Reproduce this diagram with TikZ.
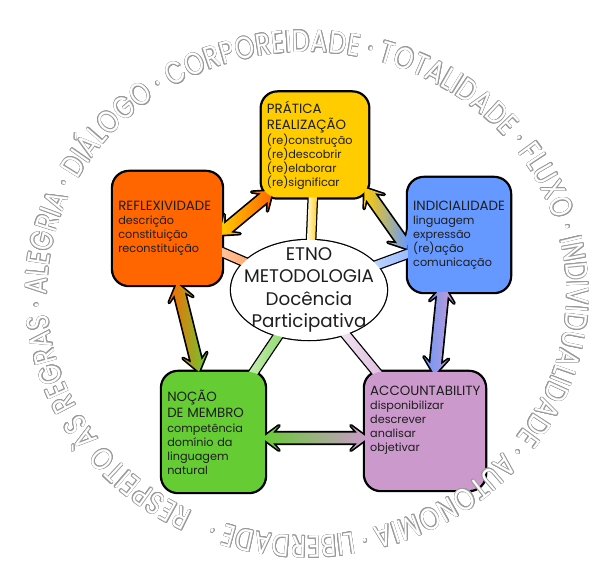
\documentclass[tikz,border=0pt]{standalone}
\usepackage{fontspec}
\setmainfont{Poppins}
\newfontfamily\ringfont{Poppins}[FakeStretch=0.8]
\usepackage{contour}
\contourlength{0.42pt}
\usetikzlibrary{calc, shapes.geometric, decorations.text}

\definecolor{sun}{HTML}{FFCC00}
\definecolor{flame}{HTML}{FF6600}
\definecolor{sky}{HTML}{6699FF}
\definecolor{leaf}{HTML}{66CC33}
\definecolor{lilac}{HTML}{CC99CC}
\definecolor{ash}{HTML}{9A9A9A}
\definecolor{ink}{HTML}{1E1E1E}

\pgfdeclarelayer{outline}
\pgfdeclarelayer{paint}
\pgfsetlayers{outline,paint,main}

\newcommand\headfont{\fontsize{9.5}{12}\selectfont}
\newcommand\itemfont{\fontsize{8}{10}\selectfont}
\newcommand\boxhead[1]{{\headfont #1\par}}
\newcommand\ringchar[1]{\contour{ash}{#1}}

% length and direction from (barA) to (barB)
\newcommand\measurebar{%
  \pgfpointdiff{\pgfpointanchor{barA}{center}}{\pgfpointanchor{barB}{center}}%
  \pgfgetlastxy{\barx}{\bary}%
  \pgfmathsetmacro\barlen{veclen(\barx,\bary)}%
  \pgfmathsetmacro\barang{atan2(\bary,\barx)}}

% shaded band between two nodes, outline below, fill above
\newcommand\spoke[4]{%
  \path (#1) coordinate (barA) (#2) coordinate (barB);
  \measurebar
  \begin{scope}[shift={(barA)}, rotate=\barang]
    \begin{pgfonlayer}{outline}
      \draw[line width=1.8pt] (0,-2.9pt) rectangle (\barlen pt,2.9pt);
    \end{pgfonlayer}
    \begin{pgfonlayer}{paint}
      \shade[left color=#3, right color=#4] (0,-2.9pt) rectangle (\barlen pt,2.9pt);
    \end{pgfonlayer}
  \end{scope}}

% two-headed block arrow, tip to tip
\newcommand\blockarrow[4]{%
  \path (#1) coordinate (barA) (#2) coordinate (barB);
  \measurebar
  \pgfmathsetmacro\barneck{\barlen-7.5}%
  \pgfmathsetmacro\barbarb{\barlen-12}%
  \def\barpath{(0,0) -- (12pt,8.8pt) -- (7.5pt,3.8pt) -- (\barneck pt,3.8pt) -- (\barbarb pt,8.8pt) -- (\barlen pt,0) -- (\barbarb pt,-8.8pt) -- (\barneck pt,-3.8pt) -- (7.5pt,-3.8pt) -- (12pt,-8.8pt) -- cycle}%
  \begin{scope}[shift={(barA)}, rotate=\barang]
    \begin{pgfonlayer}{outline}
      \draw[line width=2.4pt, line join=round] \barpath;
    \end{pgfonlayer}
    \begin{pgfonlayer}{paint}
      \shade[left color=#3, right color=#4] \barpath;
    \end{pgfonlayer}
  \end{scope}}

\begin{document}
\begin{tikzpicture}[x=0.25mm, y=0.25mm,
    box/.style={rounded corners=4mm, inner xsep=1.3mm, inner ysep=0pt, align=left, font=\itemfont, text=ink},
    core/.style={ellipse, fill=white, minimum width=39mm, minimum height=25mm, inner sep=0pt},
    coretext/.style={align=center, font=\fontsize{13}{16}\selectfont, text=ink},
    rim/.style={line width=2.8pt, rounded corners=4mm}
  ]
  \useasboundingbox (0,0) rectangle (616,567);

  \node[core] (etno) at (309,277) {};
  \node[coretext] (etno-t) at (etno) {ETNO\\METODOLOGIA\\Docência\\Participativa};

  \node[box, fill=sun, text width=24mm, minimum height=26.25mm] (pra) at (315,422)
    {\boxhead{PRÁTICA\\REALIZAÇÃO}(re)construção\\(re)descobrir\\(re)elaborar\\(re)significar};
  \node[box, fill=flame, text width=24.6mm, minimum height=28.25mm] (ref) at (167.5,338.5)
    {\boxhead{REFLEXIVIDADE}descrição\\constituição\\reconstituição};
  \node[box, fill=sky, text width=22.9mm, minimum height=28.5mm] (ind) at (459,332)
    {\boxhead{INDICIALIDADE}linguagem\\expressão\\(re)ação\\comunicação};
  \node[box, fill=leaf, text width=23.1mm, minimum height=30mm] (noc) at (213.5,135)
    {\boxhead{NOÇÃO\\DE MEMBRO}competência\\domínio da\\linguagem\\natural};
  \node[box, fill=lilac, text width=27.4mm, text depth=57pt, minimum height=29.5mm] (acc) at (425,136)
    {\boxhead{ACCOUNTABILITY}disponibilizar\\descrever\\analisar\\objetivar};

  % borders go under every fill so arrows merge into the boxes
  \begin{pgfonlayer}{outline}
    \foreach \b in {pra,ref,ind,noc,acc}
      \draw[rim] (\b.south west) rectangle (\b.north east);
    \draw[line width=1.8pt] (etno) ellipse [x radius=19.5mm, y radius=12.5mm];
  \end{pgfonlayer}

  \spoke{etno}{pra}{white}{sun}
  \spoke{etno}{ref}{white}{flame}
  \spoke{etno}{ind}{white}{sky}
  \spoke{etno}{noc}{white}{leaf}
  \spoke{etno}{acc}{white}{lilac}

  \blockarrow{$(pra.south west)+(11,7)$}{$(ref.east)+(-3,-6.5)$}{sun}{flame}
  \blockarrow{$(pra.south east)+(-4,10)$}{$(ind.west)+(0,-14)$}{sun}{sky}
  \blockarrow{$(ref.south)+(9.5,2)$}{$(noc.north)+(-14.5,0)$}{flame}{leaf}
  \blockarrow{$(ind.south)+(-15.5,7)$}{$(acc.north)+(9.5,-3)$}{sky}{lilac}
  \blockarrow{$(noc.east)+(-3,-6)$}{$(acc.west)+(3,-7)$}{leaf}{lilac}

  % words round the diagram
  \coordinate (ring) at (307,273);
  \path[decorate, decoration={text effects along path,
      text={RESPEITO ÀS REGRAS · ALEGRIA · DIÁLOGO · CORPOREIDADE · TOTALIDADE · FLUXO · INDIVIDUALIDADE · AUTONOMIA · LIBERDADE ·},
      text effects/.cd, text along path, fit text to path,
      character command=\ringchar,
      every character/.style={font=\ringfont\fontsize{22}{22}\selectfont, text=white}}]
    (ring) ++(-116:260 and 242) arc[start angle=-116, delta angle=-355, x radius=260, y radius=242];
\end{tikzpicture}
\end{document}
